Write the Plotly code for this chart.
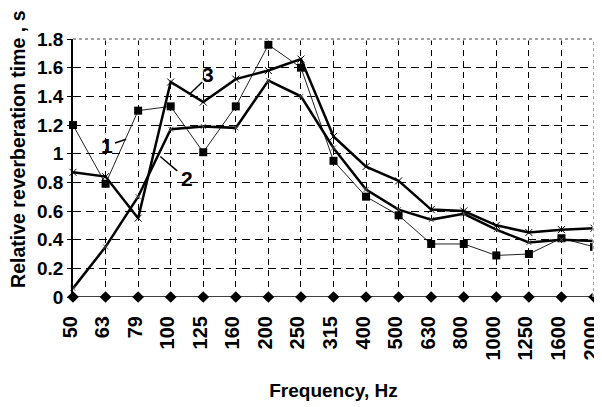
import plotly.graph_objects as go

freq = ["50", "63", "79", "100", "125", "160", "200", "250", "315", "400",
        "500", "630", "800", "1000", "1250", "1600", "2000"]
series1 = [1.20, 0.79, 1.30, 1.33, 1.01, 1.33, 1.76, 1.60, 0.95, 0.70,
           0.57, 0.37, 0.37, 0.29, 0.30, 0.41, 0.35]
series2 = [0.06, 0.35, 0.70, 1.17, 1.19, 1.18, 1.51, 1.40, 1.04, 0.75,
           0.61, 0.54, 0.58, 0.47, 0.38, 0.40, 0.39]
series3 = [0.87, 0.84, 0.55, 1.50, 1.36, 1.52, 1.58, 1.66, 1.12, 0.91,
           0.81, 0.61, 0.60, 0.50, 0.45, 0.47, 0.48]
baseline = [0.0] * len(freq)
y_ticks = [0, 0.2, 0.4, 0.6, 0.8, 1.0, 1.2, 1.4, 1.6, 1.8]
y_ticktext = ["0", "0.2", "0.4", "0.6", "0.8", "1", "1.2", "1.4", "1.6", "1.8"]

FONT = "Liberation Sans, Arial, sans-serif"

fig = go.Figure()
fig.add_trace(go.Scatter(x=freq, y=baseline, mode="lines+markers",
                         line=dict(color="black", width=1.6),
                         marker=dict(symbol="diamond", size=9, color="black"),
                         cliponaxis=False))
fig.add_trace(go.Scatter(x=freq, y=series1, mode="lines+markers",
                         line=dict(color="#222", width=1),
                         marker=dict(symbol="square", size=8, color="black"),
                         cliponaxis=False))
fig.add_trace(go.Scatter(x=freq, y=series2, mode="lines+markers",
                         line=dict(color="black", width=2.5),
                         marker=dict(symbol="x-thin", size=5,
                                     line=dict(color="#555", width=1)),
                         cliponaxis=False))
fig.add_trace(go.Scatter(x=freq, y=series3, mode="lines+markers",
                         line=dict(color="black", width=2.5),
                         marker=dict(symbol="x-thin", size=7,
                                     line=dict(color="black", width=1)),
                         cliponaxis=False))

# curve labels with leader lines
labels = [("1", 1.05, 1.06, 1.29, 1.075, 1.63, 1.10),
          ("2", 3.5, 0.83, 3.2, 0.88, 2.68, 0.98),
          ("3", 4.15, 1.55, 3.97, 1.50, 3.6, 1.42)]
for txt, tx, ty, x0, y0, x1, y1 in labels:
    fig.add_annotation(x=tx, y=ty, text=txt, showarrow=False,
                       font=dict(family=FONT, size=21, color="black", weight="bold"))
    fig.add_shape(type="line", x0=x0, y0=y0, x1=x1, y1=y1,
                  line=dict(color="black", width=1.5))

# y-axis title as a rotated annotation (positioned like the original)
fig.add_annotation(xref="paper", yref="paper", x=-0.107, y=0.575,
                   xanchor="center", yanchor="middle", textangle=-90,
                   text="Relative reverberation time , s", showarrow=False,
                   font=dict(family=FONT, size=19.5, color="black", weight="bold"))

# dotted top and right border
for kw in (dict(x0=0, x1=1, y0=1, y1=1), dict(x0=1, x1=1, y0=0, y1=1)):
    fig.add_shape(type="line", xref="paper", yref="paper",
                  line=dict(color="white", width=3), **kw)
    fig.add_shape(type="line", xref="paper", yref="paper",
                  line=dict(color="#444", width=1, dash="dot"), **kw)

# page body has an 8px margin, so the figure is drawn 8px smaller
fig.update_layout(
    width=594, height=399,
    margin=dict(l=65, r=8, t=31, b=110),
    paper_bgcolor="white", plot_bgcolor="white",
    showlegend=False,
    font=dict(family=FONT, color="black"),
)
fig.update_xaxes(
    type="category", range=[0, 16], automargin=False,
    tickangle=-90, ticklabelstandoff=14, ticklabelshift=-3,
    tickfont=dict(family=FONT, size=20, weight="bold"),
    showgrid=True, gridcolor="black", gridwidth=1, griddash="6px,5px",
    showline=False, zeroline=False, ticks="",
    title=dict(text="Frequency, Hz", standoff=24,
               font=dict(family=FONT, size=19, weight="bold")),
)
fig.update_yaxes(
    range=[0, 1.8], tickvals=y_ticks, ticktext=y_ticktext, automargin=False,
    tickfont=dict(family=FONT, size=19, weight="bold"),
    showgrid=True, gridcolor="black", gridwidth=1, griddash="8px,5px",
    showline=True, linecolor="black", linewidth=1.5,
    ticks="outside", ticklen=4, tickcolor="black",
    zeroline=False,
)

fig.write_html("out.html")
